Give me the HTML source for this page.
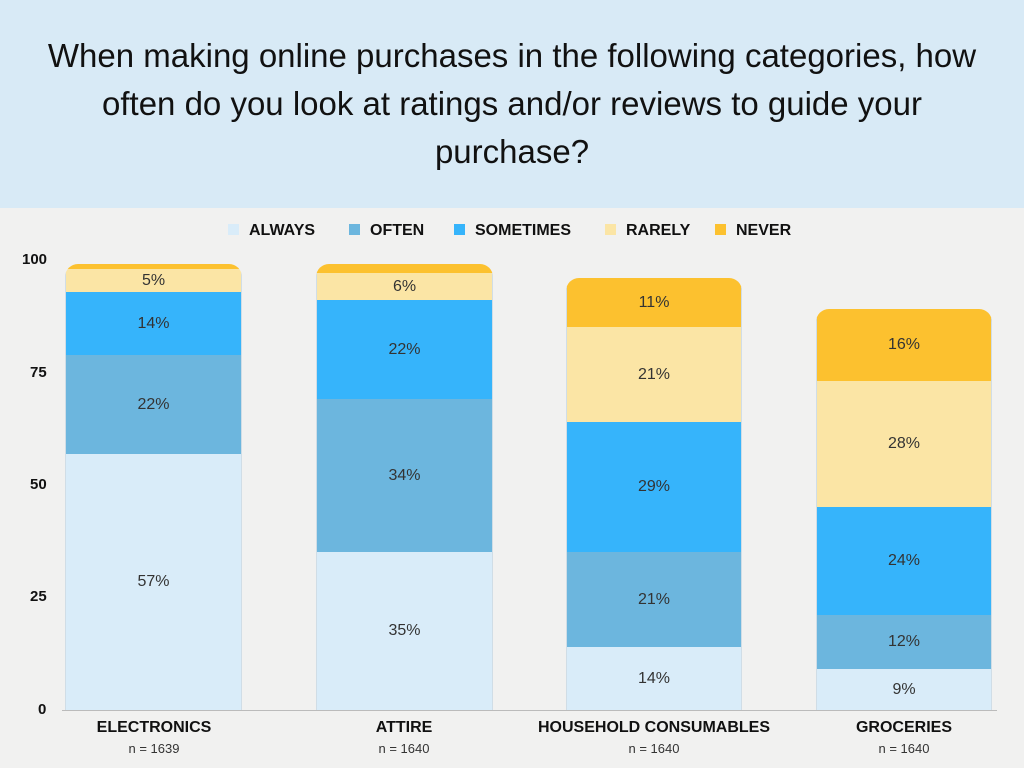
<!DOCTYPE html>
<html><head><style>
body{margin:0;width:1024px;height:768px;background:#f1f1f0;font-family:"Liberation Sans",sans-serif;position:relative;overflow:hidden}
.hdr{position:absolute;left:0;top:0;width:1024px;height:208px;background:#d8eaf6;text-align:center;font-size:33px;line-height:48px;color:#111;padding-top:32px;box-sizing:border-box}
.s{position:absolute;box-sizing:border-box;text-align:center;font-size:16px;color:#333;display:flex;align-items:center;justify-content:center;border-left:1px solid #d0dde6;border-right:1px solid #d0dde6}
.bar{position:absolute;overflow:hidden;border-radius:13px 13px 0 0}
.y{position:absolute;left:22px;font-weight:bold;font-size:15px;color:#111}
.cat{position:absolute;top:719px;font-weight:bold;font-size:16px;text-align:center;color:#111}
.n{position:absolute;top:741px;font-size:13px;text-align:center;color:#333}
.lg{position:absolute;top:222px;font-weight:bold;font-size:16px;color:#111}
.lg i{display:inline-block;width:11px;height:11px;margin-right:10px;vertical-align:0}
</style></head><body>
<div class="hdr">When making online purchases in the following categories, how<br>often do you look at ratings and/or reviews to guide your<br>purchase?</div>
<div class="lg" style="left:228px"><i style="background:#d9ecf9"></i>ALWAYS</div>
<div class="lg" style="left:349px"><i style="background:#6cb6de"></i>OFTEN</div>
<div class="lg" style="left:454px"><i style="background:#36b4fb"></i>SOMETIMES</div>
<div class="lg" style="left:605px"><i style="background:#fbe5a5"></i>RARELY</div>
<div class="lg" style="left:715px"><i style="background:#fcc12f"></i>NEVER</div>
<div class="y" style="top:251px">100</div>
<div class="y" style="top:364px;left:30px">75</div>
<div class="y" style="top:476px;left:30px">50</div>
<div class="y" style="top:588px;left:30px">25</div>
<div class="y" style="top:701px;left:38px">0</div>
<div style="position:absolute;left:62px;top:710px;width:935px;height:1px;background:#bbb"></div>

<div class="bar" style="left:65px;top:264px;width:177px;height:446px">
<div class="s" style="top:0;height:5px;width:100%;background:#fcc12f"></div>
<div class="s" style="top:5px;height:23px;width:100%;background:#fbe5a5">5%</div>
<div class="s" style="top:28px;height:63px;width:100%;background:#36b4fb">14%</div>
<div class="s" style="top:91px;height:99px;width:100%;background:#6cb6de">22%</div>
<div class="s" style="top:190px;height:256px;width:100%;background:#d9ecf9">57%</div>
</div>
<div class="bar" style="left:316px;top:264px;width:177px;height:446px">
<div class="s" style="top:0;height:9px;width:100%;background:#fcc12f"></div>
<div class="s" style="top:9px;height:27px;width:100%;background:#fbe5a5">6%</div>
<div class="s" style="top:36px;height:99px;width:100%;background:#36b4fb">22%</div>
<div class="s" style="top:135px;height:153px;width:100%;background:#6cb6de">34%</div>
<div class="s" style="top:288px;height:158px;width:100%;background:#d9ecf9">35%</div>
</div>
<div class="bar" style="left:566px;top:278px;width:176px;height:432px">
<div class="s" style="top:0;height:49px;width:100%;background:#fcc12f">11%</div>
<div class="s" style="top:49px;height:95px;width:100%;background:#fbe5a5">21%</div>
<div class="s" style="top:144px;height:130px;width:100%;background:#36b4fb">29%</div>
<div class="s" style="top:274px;height:95px;width:100%;background:#6cb6de">21%</div>
<div class="s" style="top:369px;height:63px;width:100%;background:#d9ecf9">14%</div>
</div>
<div class="bar" style="left:816px;top:309px;width:176px;height:401px">
<div class="s" style="top:0;height:72px;width:100%;background:#fcc12f">16%</div>
<div class="s" style="top:72px;height:126px;width:100%;background:#fbe5a5">28%</div>
<div class="s" style="top:198px;height:108px;width:100%;background:#36b4fb">24%</div>
<div class="s" style="top:306px;height:54px;width:100%;background:#6cb6de">12%</div>
<div class="s" style="top:360px;height:41px;width:100%;background:#d9ecf9">9%</div>
</div>

<div class="cat" style="left:54px;width:200px">ELECTRONICS</div>
<div class="n" style="left:54px;width:200px">n = 1639</div>
<div class="cat" style="left:304px;width:200px">ATTIRE</div>
<div class="n" style="left:304px;width:200px">n = 1640</div>
<div class="cat" style="left:504px;width:300px">HOUSEHOLD CONSUMABLES</div>
<div class="n" style="left:554px;width:200px">n = 1640</div>
<div class="cat" style="left:804px;width:200px">GROCERIES</div>
<div class="n" style="left:804px;width:200px">n = 1640</div>
</body></html>
